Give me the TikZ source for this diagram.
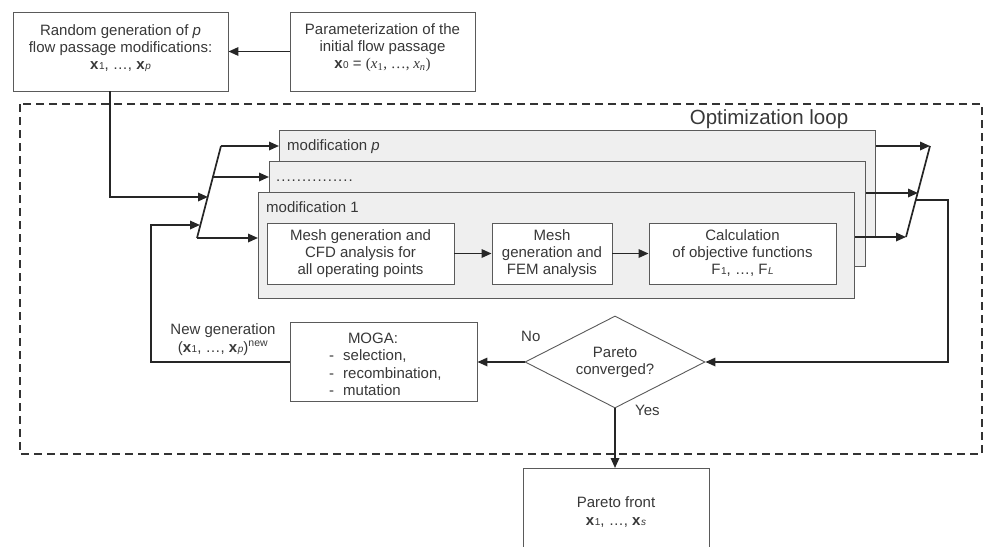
\documentclass[tikz,border=0pt]{standalone}
\usepackage{fontspec}
\setmainfont{Liberation Sans}
\newfontfamily\serifit{Liberation Serif}
\usetikzlibrary{arrows.meta,shapes.geometric}
\definecolor{txt}{HTML}{383838}
\definecolor{edge}{HTML}{5A5A5A}
\definecolor{modfill}{HTML}{EFEFEF}
\newcommand{\bvec}[1]{\textbf{x}\kern0.6pt{\fontsize{10}{10}\selectfont #1}}
\newcommand{\smallsub}[1]{{\fontsize{10}{10}\selectfont #1}}
\begin{document}
\begin{tikzpicture}[x=1pt,y=-1pt,
  font=\fontsize{15}{17}\selectfont, text=txt,
  box/.style={draw=edge, line width=0.9pt, fill=white, inner sep=0pt},
  modbox/.style={draw=edge, line width=0.9pt, fill=modfill, inner sep=0pt, anchor=north west},
  lbl/.style={align=center, inner sep=0pt},
  conn/.style={line width=1.7pt, draw=black!85},
  arr/.style={conn, -{Triangle[length=10pt,width=8.5pt]}}]
\useasboundingbox (0,0) rectangle (987,546);
\clip (0,0) rectangle (987,546);

% dashed optimization loop frame
\draw[line width=1.5pt, black!80, dash pattern=on 8pt off 5pt] (20,104) rectangle (982,454);
\node[lbl, font=\fontsize{20.5}{22}\selectfont, anchor=base] (optl) at (769,124) {Optimization loop};

% top boxes
\node[box, minimum width=215pt, minimum height=79pt] (rand) at (120.5,51.5) {};
\node[lbl] (randt) at (120.5,48) {Random generation of \textit{p}\\flow passage modifications:\\\bvec{1}, \dots, \bvec{\textit{p}}};
\node[box, minimum width=185pt, minimum height=79pt] (param) at (382.5,51.5) {};
\node[lbl] (paramt) at (382.5,48) {Parameterization of the\\initial flow passage\\\bvec{0} = {\serifit(\textit{x}\textsubscript{1}, \dots, \textit{x}\textsubscript{\textit{n}})}};
\draw[arr] (param.west) -- (rand.east);

% modification boxes
\node[modbox, minimum width=596pt, minimum height=106pt] (modp) at (279,130) {};
\node[lbl, anchor=base west] (modpt) at (287,150) {modification \textit{p}};
\node[modbox, minimum width=596pt, minimum height=105pt] (modd) at (269,161) {};
\node[lbl, anchor=base west] (moddt) at (276,181) {\foreach \i in {1,...,15}{.\kern1.0pt}};
\node[modbox, minimum width=596pt, minimum height=106pt] (mod1) at (258,192) {};
\node[lbl, anchor=base west] (mod1t) at (266,212) {modification 1};

% inner boxes
\node[box, minimum width=187pt, minimum height=61pt] (cfd) at (360.5,253.5) {};
\node[lbl] (cfdt) at (360.5,253.5) {Mesh generation and\\CFD analysis for\\all operating points};
\node[box, minimum width=120pt, minimum height=61pt] (fem) at (552,253.5) {};
\node[lbl] (femt) at (552,253.5) {Mesh\\generation and\\FEM analysis};
\node[box, minimum width=187pt, minimum height=61pt] (calc) at (742.5,253.5) {};
\node[lbl] (calct) at (742.5,253.5) {Calculation\\of objective functions\\F\kern0.5pt\smallsub{1}, \dots, F\kern0.5pt\smallsub{\textit{L}}};
\draw[arr] (cfd.east) -- (fem.west);
\draw[arr] (fem.east) -- (calc.west);

% left fork
\coordinate (lb) at (197,238);
\coordinate (lt) at (221,146);
\coordinate (lm) at (213,177);
\coordinate (lin1) at (208,197);
\coordinate (lin2) at (200,225);
\draw[conn] (lb) -- (lt);
\draw[arr] (lt) -- (lt -| modp.west);
\draw[arr] (lm) -- (lm -| modd.west);
\draw[arr] (lb) -- (lb -| mod1.west);
\coordinate (rdrop) at (110,91);
\draw[arr] (rdrop) |- (lin1);

% right fork
\coordinate (rt) at (930,146);
\coordinate (rm) at (918,193);
\coordinate (rb) at (906,237);
\coordinate (rout) at (915,200);
\coordinate (rturn) at (948,200);
\draw[conn] (rb) -- (rt);
\draw[arr] (rt -| modp.east) -- (rt);
\draw[arr] (rm -| modd.east) -- (rm);
\draw[arr] (rb -| mod1.east) -- (rb);

% decision
\node[diamond, draw=edge, line width=0.9pt, fill=white, minimum width=180pt, minimum height=92pt, inner sep=0pt] (dia) at (615,362) {};
\node[lbl] (diat) at (615,362) {Pareto\\converged?};
\draw[arr] (rout) -- (rturn) |- (dia.east);
\node[lbl, anchor=base west] (no) at (521,341) {No};
\node[lbl, anchor=base west] (yes) at (635,415) {Yes};

% MOGA
\node[box, minimum width=187pt, minimum height=79pt] (moga) at (383.5,362) {};
\node[lbl, anchor=base] (mogat) at (373,343) {MOGA:};
\node[lbl, anchor=base west] (m1) at (329,360) {-};
\node[lbl, anchor=base west] (m1t) at (343,360) {selection,};
\node[lbl, anchor=base west] (m2) at (329,378) {-};
\node[lbl, anchor=base west] (m2t) at (343,378) {recombination,};
\node[lbl, anchor=base west] (m3) at (329,395) {-};
\node[lbl, anchor=base west] (m3t) at (343,395) {mutation};
\draw[arr] (dia.west) -- (moga.east);
\coordinate (lc1) at (151,362);
\coordinate (lc2) at (151,225);
\draw[arr] (moga.west) -- (lc1) -- (lc2) -- (lin2);
\node[lbl, anchor=base] (ng1) at (223,334) {New generation};
\node[lbl, anchor=base] (ng2) at (223,352) {(\bvec{1}, \dots, \bvec{\textit{p}})\textsuperscript{new}};

% Pareto front
\node[box, minimum width=186pt, minimum height=110pt, anchor=north] (pf) at (616,468) {};
\node[lbl, anchor=base] (pft) at (616,507) {Pareto front};
\node[lbl, anchor=base] (pfx) at (616,525) {\bvec{1}, \dots, \bvec{\textit{s}}};
\draw[arr] (dia.south) -- (dia.south |- pf.north);
\end{tikzpicture}
\end{document}
